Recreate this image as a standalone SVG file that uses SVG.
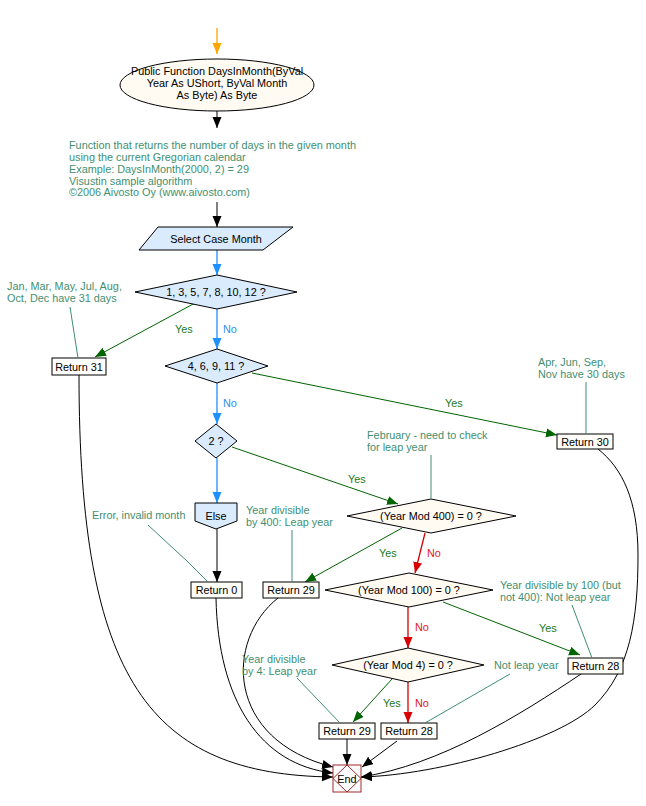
<svg xmlns="http://www.w3.org/2000/svg" width="646" height="806" viewBox="0 0 646 806">
<style>
text{font-family:"Liberation Sans",Arial,sans-serif;font-size:10.85px}
.n{fill:#000;text-anchor:middle}
.c{fill:#3f8f70}
.y{fill:#1a7a1a}
.nb{fill:#2b8ff0}
.nr{fill:#e01818}
.box{fill:#fffdf8;stroke:#000;stroke-width:1}
.dblue{fill:#d9ebfc;stroke:#000;stroke-width:1}
.dcream{fill:#fffaf2;stroke:#000;stroke-width:1}
.k{fill:none;stroke:#000;stroke-width:1;marker-end:url(#aK)}
.b{fill:none;stroke:#1e90ff;stroke-width:1.3;marker-end:url(#aB)}
.g{fill:none;stroke:#006400;stroke-width:1;marker-end:url(#aG)}
.r{fill:none;stroke:#d80000;stroke-width:1.3;marker-end:url(#aR)}
.cl{fill:none;stroke:#3f8f70;stroke-width:1}
</style>
<defs>
<marker id="aK" markerUnits="userSpaceOnUse" markerWidth="12" markerHeight="10" refX="11" refY="4.5" orient="auto"><path d="M0,0 L11,4.5 L0,9 z" fill="#000"/></marker>
<marker id="aB" markerUnits="userSpaceOnUse" markerWidth="12" markerHeight="10" refX="11" refY="4.5" orient="auto"><path d="M0,0 L11,4.5 L0,9 z" fill="#1e90ff"/></marker>
<marker id="aG" markerUnits="userSpaceOnUse" markerWidth="12" markerHeight="10" refX="11" refY="4.5" orient="auto"><path d="M0,0 L11,4.5 L0,9 z" fill="#006400"/></marker>
<marker id="aR" markerUnits="userSpaceOnUse" markerWidth="12" markerHeight="10" refX="11" refY="4.5" orient="auto"><path d="M0,0 L11,4.5 L0,9 z" fill="#d80000"/></marker>
<marker id="aO" markerUnits="userSpaceOnUse" markerWidth="12" markerHeight="10" refX="11" refY="4.5" orient="auto"><path d="M0,0 L11,4.5 L0,9 z" fill="#ffa500"/></marker>
</defs>
<rect width="646" height="806" fill="#fff"/>

<g id="connectors">
<line x1="217" y1="28" x2="217" y2="54" stroke="#ffa500" stroke-width="1.3" marker-end="url(#aO)"/>
<line class="k" x1="217" y1="111" x2="217" y2="128"/>
<line class="k" x1="217" y1="202" x2="217" y2="227"/>
<line class="b" x1="217" y1="250" x2="217" y2="275"/>
<line class="g" x1="195" y1="303" x2="95" y2="357"/>
<text class="y" x="175" y="333">Yes</text>
<line class="b" x1="217" y1="309" x2="217" y2="349"/>
<text class="nb" x="223" y="333">No</text>
<line class="g" x1="252" y1="373" x2="557" y2="435"/>
<text class="y" x="445" y="407">Yes</text>
<line class="b" x1="217" y1="383" x2="217" y2="424"/>
<text class="nb" x="223" y="407">No</text>
<line class="g" x1="232" y1="447" x2="398" y2="504"/>
<text class="y" x="348" y="483">Yes</text>
<line class="b" x1="217" y1="458" x2="217" y2="503"/>
<line class="k" x1="217" y1="529" x2="217" y2="582"/>
<line class="g" x1="402" y1="528" x2="305" y2="582"/>
<text class="y" x="379" y="557">Yes</text>
<line class="r" x1="425" y1="533" x2="415" y2="573"/>
<text class="nr" x="427" y="557">No</text>
<line class="g" x1="443" y1="602" x2="580" y2="655"/>
<text class="y" x="539" y="632">Yes</text>
<line class="r" x1="408" y1="607" x2="408" y2="648"/>
<text class="nr" x="415" y="631">No</text>
<line class="g" x1="392" y1="679" x2="353" y2="722"/>
<text class="y" x="383" y="707">Yes</text>
<line class="r" x1="408" y1="682" x2="408" y2="723"/>
<text class="nr" x="415" y="707">No</text>
<line class="k" x1="347" y1="739" x2="347" y2="765"/>
<line class="k" x1="397" y1="741" x2="362" y2="767"/>
<path class="k" d="M79,375 C79,680 150,775 333,777"/>
<path class="k" d="M216,598 C218,700 260,765 333,773"/>
<path class="k" d="M278,598 C225,640 225,740 333,767"/>
<path class="k" d="M581,674 C520,715 440,765 361,777"/>
<path class="k" d="M598,449 C622,468 638,500 638,555 C638,620 630,670 595,705 C560,740 440,775 361,777"/>
</g>

<g id="start">
<ellipse cx="217" cy="85" rx="97" ry="26" class="dcream"/>
<text class="n" x="217" y="75">Public Function DaysInMonth(ByVal</text>
<text class="n" x="217" y="87">Year As UShort, ByVal Month</text>
<text class="n" x="217" y="98.5">As Byte) As Byte</text>
</g>

<g id="comment-header">
<text class="c" x="69" y="149">Function that returns the number of days in the given month</text>
<text class="c" x="69" y="161">using the current Gregorian calendar</text>
<text class="c" x="69" y="173">Example: DaysInMonth(2000, 2) = 29</text>
<text class="c" x="69" y="184.5">Visustin sample algorithm</text>
<text class="c" x="69" y="196">©2006 Aivosto Oy (www.aivosto.com)</text>
</g>

<g id="select-case">
<polygon class="dblue" points="158,227 293,227 263,250 139,250"/>
<text class="n" x="216" y="242.5">Select Case Month</text>
</g>

<g id="case1">
<polygon class="dblue" points="217,275 297,292 217,309 135,292"/>
<text class="n" x="216" y="296">1, 3, 5, 7, 8, 10, 12 ?</text>
</g>

<g id="return31">
<rect x="52" y="358" width="54" height="17" fill="#fff" stroke="#000"/>
<text class="n" x="79" y="370.5">Return 31</text>
<text class="c" x="7" y="290">Jan, Mar, May, Jul, Aug,</text>
<text class="c" x="7" y="302">Oct, Dec have 31 days</text>
<line class="cl" x1="70" y1="307" x2="78" y2="358"/>
</g>

<g id="case2">
<polygon class="dblue" points="217,349 268,366 217,383 165,366"/>
<text class="n" x="216" y="370">4, 6, 9, 11 ?</text>
</g>

<g id="return30">
<rect class="box" x="557" y="434" width="56" height="15"/>
<text class="n" x="585" y="446">Return 30</text>
<text class="c" x="538" y="366">Apr, Jun, Sep,</text>
<text class="c" x="538" y="377.5">Nov have 30 days</text>
<line class="cl" x1="586" y1="382" x2="586" y2="434"/>
</g>

<g id="case3">
<polygon class="dblue" points="216,424 237,441 216,458 195,441"/>
<text class="n" x="216" y="445">2 ?</text>
</g>

<g id="else">
<polygon class="dblue" points="195,503 237,503 237,521 216,529 195,521"/>
<text class="n" x="216" y="520">Else</text>
</g>

<g id="return0">
<rect class="box" x="191" y="582" width="51" height="16"/>
<text class="n" x="216.5" y="594">Return 0</text>
<text class="c" x="92" y="519">Error, invalid month</text>
<path class="cl" d="M148,525 L175,550 L187,561 L208,582"/>
</g>

<g id="mod400">
<polygon class="dcream" points="431,499 516,516 431,533 347,516"/>
<text class="n" x="431" y="520">(Year Mod 400) = 0 ?</text>
<text class="c" x="367" y="439">February - need to check</text>
<text class="c" x="367" y="451">for leap year</text>
<line class="cl" x1="431" y1="455" x2="431" y2="499"/>
</g>

<g id="return29a">
<rect class="box" x="263" y="582" width="56" height="16"/>
<text class="n" x="291" y="594">Return 29</text>
<text class="c" x="246" y="514">Year divisible</text>
<text class="c" x="246" y="526">by 400: Leap year</text>
<line class="cl" x1="292" y1="530" x2="292" y2="582"/>
</g>

<g id="mod100">
<polygon class="dcream" points="409,573 493,590 409,607 325,590"/>
<text class="n" x="409" y="594">(Year Mod 100) = 0 ?</text>
</g>

<g id="return28a">
<rect class="box" x="568" y="658" width="55" height="16"/>
<text class="n" x="595.5" y="670">Return 28</text>
<text class="c" x="500" y="589">Year divisible by 100 (but</text>
<text class="c" x="500" y="601">not 400): Not leap year</text>
<line class="cl" x1="572" y1="605" x2="592" y2="658"/>
</g>

<g id="mod4">
<polygon class="dcream" points="408,648 484,665 408,682 332,665"/>
<text class="n" x="408" y="669">(Year Mod 4) = 0 ?</text>
</g>

<g id="return29b">
<rect class="box" x="319" y="723" width="56" height="16"/>
<text class="n" x="347" y="735">Return 29</text>
<text class="c" x="242" y="663">Year divisible</text>
<text class="c" x="242" y="675">by 4: Leap year</text>
<line class="cl" x1="297" y1="678" x2="340" y2="723"/>
</g>

<g id="return28b">
<rect class="box" x="381" y="723" width="56" height="16"/>
<text class="n" x="409" y="735">Return 28</text>
<text class="c" x="494" y="669">Not leap year</text>
<line class="cl" x1="510" y1="674" x2="425" y2="723"/>
</g>

<g id="end">
<rect x="333" y="765" width="28" height="27" fill="#fff" stroke="#a02828" stroke-width="1"/>
<polygon points="347,765 361,778.5 347,792 333,778.5" fill="none" stroke="#a02828" stroke-width="1"/>
<text class="n" x="347" y="782.5">End</text>
</g>
</svg>
